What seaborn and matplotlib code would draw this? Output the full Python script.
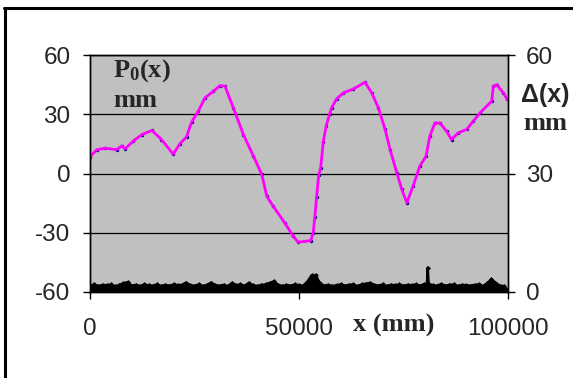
import matplotlib
matplotlib.use('Agg')
import matplotlib.pyplot as plt
import seaborn as sns
import pandas as pd
from matplotlib.lines import Line2D

# ---------------- data ----------------
p_x = [0, 1600, 3600, 6400, 7600, 8400, 10400, 12400, 14800, 17100, 19900, 21500,
       23100, 24300, 25900, 27500, 29500, 31100, 32300, 34300, 36700, 39100, 41100,
       42300, 43800, 46600, 48600, 49800, 52800, 53400, 53800, 54200, 54700, 55200,
       55800, 56500, 57300, 57800, 59000, 60600, 63000, 65800, 67400, 69000, 70600,
       71800, 73400, 74600, 75800, 77300, 78900, 80400, 81300, 82500, 83700, 85300,
       86500, 88100, 90100, 91700, 93300, 96100, 96500, 97300, 98900, 99800]
p_y = [8.5, 12.0, 12.8, 12.1, 14.0, 12.5, 16.5, 19.7, 21.8, 17.2, 9.8, 15.0,
       18.6, 26.0, 31.5, 38.3, 41.6, 44.5, 44.2, 33.2, 19.7, 8.8, -0.5,
       -11.5, -16.5, -25.0, -31.7, -34.8, -34.0, -30.0, -22.0, -12.0, -1.0, 3.0,
       16.0, 24.0, 30.0, 33.2, 37.8, 40.8, 42.8, 46.2, 40.8, 33.2, 22.3,
       12.1, 0.3, -8.1, -14.8, -6.4, 3.7, 8.8, 18.9, 25.6, 25.6, 21.4,
       17.2, 20.6, 22.3, 26.5, 30.7, 36.6, 44.2, 45.0, 40.8, 37.5]

d_x = [0, 1000, 2000, 3000, 4000, 5000, 6000, 7000, 8000, 9000, 10000, 11000, 12000,
       13000, 14000, 15000, 16000, 17000, 18000, 19000, 20000, 21000, 22000, 23000,
       24000, 25000, 26000, 27000, 28000, 29000, 30000, 31000, 32000, 33000, 34000,
       35000, 36000, 37000, 38000, 39000, 40000, 41000, 42000, 43000, 44000, 45000,
       46000, 47000, 48000, 49000, 50000, 51000, 52000, 53000, 54000, 55000, 56000,
       57000, 58000, 59000, 60000, 61000, 62000, 63000, 64000, 65000, 66000, 67000,
       68000, 69000, 70000, 71000, 72000, 73000, 74000, 75000, 76000, 77000, 78000,
       79000, 80000, 80600, 80800, 81000, 82000, 83000, 84000, 85000, 86000, 87000,
       88000, 89000, 90000, 91000, 92000, 93000, 94000, 95000, 96000, 97000, 98000,
       99000, 100000]
d_y = [1.6, 1.9, 1.5, 1.8, 1.7, 1.9, 1.4, 1.8, 2.2, 2.5, 1.6, 1.8, 1.5,
       1.9, 1.7, 1.6, 1.9, 1.5, 1.8, 1.6, 1.9, 1.7, 1.8, 2.4,
       1.7, 1.6, 1.9, 1.5, 1.8, 2.4, 1.7, 1.6, 1.8, 1.5, 2.3,
       1.7, 1.9, 1.6, 2.3, 1.7, 1.5, 1.8, 1.9, 2.3, 2.7, 1.8,
       1.5, 1.8, 1.6, 1.9, 1.7, 1.6, 2.6, 4.2, 4.3, 2.2, 1.6,
       1.8, 1.5, 1.7, 1.9, 1.6, 1.8, 1.9, 1.5, 1.9, 2.1, 2.3,
       1.8, 1.6, 1.9, 1.5, 1.8, 1.7, 1.9, 1.6, 1.8, 1.7, 1.9,
       1.6, 2.0, 2.0, 6.2, 2.0, 1.7, 1.6, 2.0, 1.6, 1.8, 1.9,
       1.5, 1.8, 1.7, 1.6, 1.8, 1.9, 1.5, 2.2, 3.2, 2.4, 1.6,
       1.5, 0.4]

left_ticks = [-60, -30, 0, 30, 60]
right_ticks = [0, 30, 60]
x_ticks = [0, 50000, 100000]

# ---------------- style ----------------
sns.set_style('white')
plt.rcParams['font.family'] = ['Liberation Sans', 'DejaVu Sans']
plt.rcParams['axes.unicode_minus'] = False
plt.rcParams['mathtext.fontset'] = 'custom'
plt.rcParams['mathtext.rm'] = 'Liberation Serif:bold'
plt.rcParams['mathtext.it'] = 'Liberation Serif:bold'
plt.rcParams['mathtext.bf'] = 'Liberation Serif:bold'

W, H = 573, 378
fig = plt.figure(figsize=(W / 100, H / 100), dpi=100)
ax = fig.add_axes([90 / W, 86 / H, 418 / W, 237 / H])
ax.set_facecolor('#C0C0C0')
ax2 = ax.twinx()

df_p = pd.DataFrame({'x': p_x, 'y': p_y})
df_d = pd.DataFrame({'x': d_x, 'y': d_y})

# Delta(x) noise on right axis
ax2.fill_between(df_d['x'], 0, df_d['y'], color='black', lw=0, zorder=2)
sns.lineplot(data=df_d, x='x', y='y', ax=ax2, color='black', lw=1.8,
             marker='D', markersize=2.5, markeredgewidth=0,
             estimator=None, sort=False, zorder=3)

# P0(x) curve on left axis
sns.scatterplot(data=df_p, x='x', y='y', ax=ax, color='#000080', s=6,
                edgecolor='#000080', linewidth=0, zorder=3)
sns.lineplot(data=df_p, x='x', y='y', ax=ax, color='#FF00FF', lw=2.0,
             estimator=None, sort=False, zorder=4)

ax.set_xlim(0, 100000)
ax.set_ylim(-60, 60)
ax.set_yticks(left_ticks)
ax.set_yticklabels([str(v) for v in left_ticks])
ax.set_xticks(x_ticks)
ax.set_xticklabels([str(v) for v in x_ticks])
ax.grid(axis='y', color='black', lw=0.9)
ax.grid(axis='x', visible=False)
ax.set_xlabel('')
ax.set_ylabel('')

ax2.set_ylim(0, 60)
ax2.set_yticks(right_ticks)
ax2.set_yticklabels([str(v) for v in right_ticks])
ax2.set_ylabel('')
ax2.set_xlabel('')

for a in (ax, ax2):
    for s in a.spines.values():
        s.set_color('black')
        s.set_linewidth(1.0)

ax.tick_params(axis='y', direction='out', length=5, width=1, color='black',
               labelsize=17.5, pad=9, left=True)
ax.tick_params(axis='x', direction='out', length=5, width=1, color='black',
               labelsize=17.5, pad=14, bottom=True)
ax2.tick_params(axis='y', direction='out', length=5, width=1, color='black',
                labelsize=17.5, pad=8, right=True)

# labels
def fy(y):
    return (H - y) / H

serif = ['Liberation Serif', 'DejaVu Serif']
fig.text(113 / W, fy(77), r'P$_{0}$(x)', family=serif, weight='bold', fontsize=19,
         va='baseline', ha='left')
fig.text(113 / W, fy(107), 'mm', family=serif, weight='bold', fontsize=19,
         va='baseline', ha='left')
fig.text(521 / W, fy(102), 'Δ(x)', family=['Liberation Sans', 'DejaVu Sans'],
         weight='bold', fontsize=18, va='baseline', ha='left')
fig.text(523 / W, fy(130), 'mm', family=serif, weight='bold', fontsize=19,
         va='baseline', ha='left')
fig.text(353 / W, fy(332), 'x (mm)', family=serif, weight='bold', fontsize=19,
         va='baseline', ha='left')

# outer chart frame (top and left)
fig.add_artist(Line2D([4 / W, 1.0], [fy(8), fy(8)], color='black', lw=2.2,
                      transform=fig.transFigure))
fig.add_artist(Line2D([5 / W, 5 / W], [fy(8), 0.0], color='black', lw=2.2,
                      transform=fig.transFigure))

fig.savefig('out.png', dpi=100)
